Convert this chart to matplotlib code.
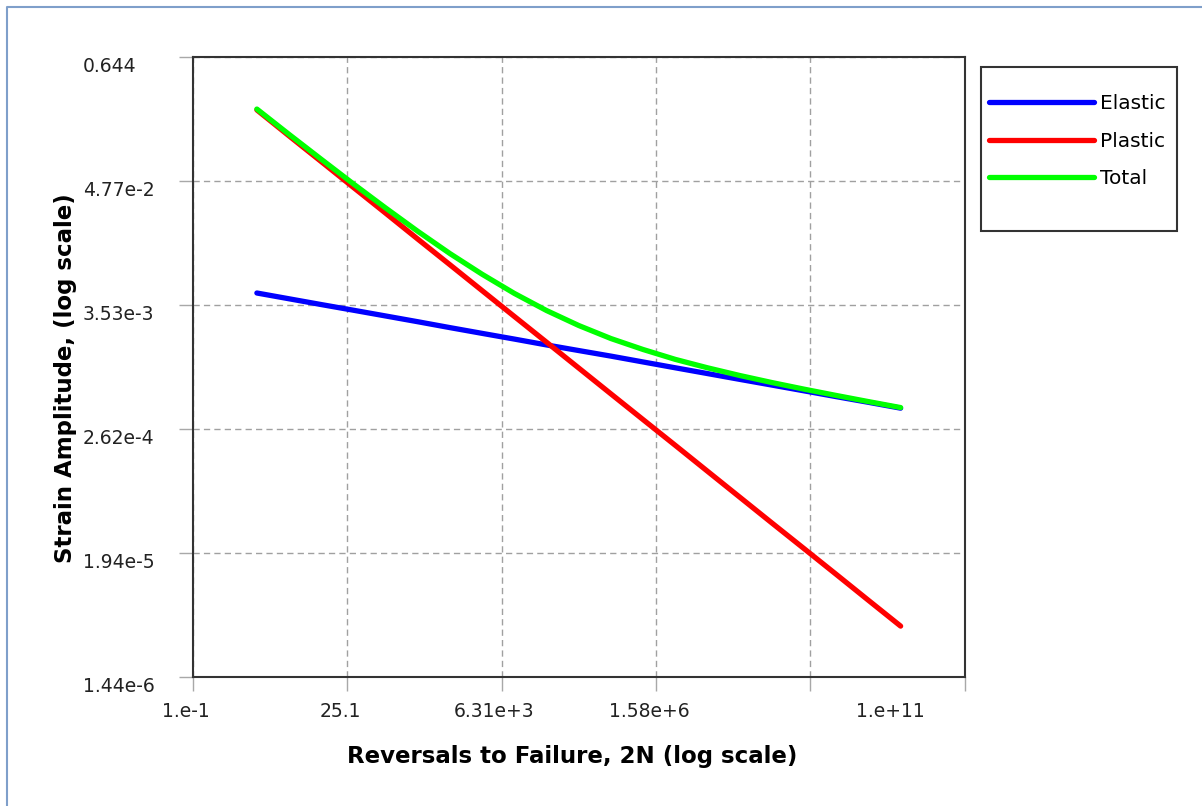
import matplotlib
matplotlib.use('Agg')
import matplotlib.pyplot as plt
import matplotlib.transforms as mtransforms
from matplotlib.lines import Line2D
from matplotlib.patches import Rectangle

# reversals to failure 2N, half-decade steps
reversals = [1, 3.16, 10, 31.6, 100, 316, 1e3, 3.16e3, 1e4, 3.16e4, 1e5,
             3.16e5, 1e6, 3.16e6, 1e7, 3.16e7, 1e8, 3.16e8, 1e9, 3.16e9, 1e10]

elastic = [4.55e-3, 4.03e-3, 3.57e-3, 3.17e-3, 2.81e-3, 2.49e-3, 2.20e-3,
           1.95e-3, 1.73e-3, 1.53e-3, 1.36e-3, 1.21e-3, 1.07e-3, 9.47e-4,
           8.39e-4, 7.43e-4, 6.59e-4, 5.84e-4, 5.17e-4, 4.59e-4, 4.06e-4]
plastic = [0.212, 0.123, 7.17e-2, 4.17e-2, 2.43e-2, 1.41e-2, 8.22e-3,
           4.78e-3, 2.78e-3, 1.62e-3, 9.42e-4, 5.48e-4, 3.19e-4, 1.86e-4,
           1.08e-4, 6.28e-5, 3.65e-5, 2.13e-5, 1.24e-5, 7.20e-6, 4.19e-6]
total = [0.216, 0.127, 7.53e-2, 4.49e-2, 2.71e-2, 1.66e-2, 1.04e-2,
         6.74e-3, 4.51e-3, 3.15e-3, 2.30e-3, 1.75e-3, 1.39e-3, 1.13e-3,
         9.47e-4, 8.06e-4, 6.95e-4, 6.05e-4, 5.30e-4, 4.66e-4, 4.11e-4]

x_ticks = [1e-1, 25.1, 6.31e3, 1.58e6, 3.98e8, 1e11]
x_tick_labels = ['1.e-1', '25.1', '6.31e+3', '1.58e+6', '', '1.e+11']
y_ticks = [1.44e-6, 1.94e-5, 2.62e-4, 3.53e-3, 4.77e-2, 0.644]
y_tick_labels = ['1.44e-6', '1.94e-5', '2.62e-4', '3.53e-3', '4.77e-2', '0.644']

W, H = 1202, 806
fig = plt.figure(figsize=(W / 100, H / 100), dpi=100)
ax = fig.add_axes([192.5 / W, 1 - 677 / H, 772.5 / W, 620 / H])

lw = 3.8
ax.plot(reversals, elastic, color='#0000ff', lw=lw, label='Elastic', solid_capstyle='round')
ax.plot(reversals, plastic, color='#ff0000', lw=lw, label='Plastic', solid_capstyle='round')
ax.plot(reversals, total, color='#00ff00', lw=lw, label='Total', solid_capstyle='round')

ax.set_xscale('log')
ax.set_yscale('log')
ax.set_xlim(x_ticks[0], x_ticks[-1])
ax.set_ylim(y_ticks[0], y_ticks[-1])
ax.minorticks_off()
ax.set_xticks(x_ticks)
ax.set_xticklabels(x_tick_labels)
ax.set_yticks(y_ticks)
ax.set_yticklabels(y_tick_labels)

ax.grid(True, color='#a0a0a0', lw=1.0, linestyle=(0, (4.5, 3)))
ax.set_axisbelow(True)
for s in ax.spines.values():
    s.set_color('#333333')
    s.set_linewidth(1.5)

ax.tick_params(axis='x', direction='out', length=10, width=1, color='#a8a8a8',
               pad=7.9, labelsize=13.5, labelcolor='#222222')
ax.tick_params(axis='y', direction='out', length=10, width=1, color='#a8a8a8',
               pad=68.8, labelsize=13.5, labelcolor='#222222')

for lbl in ax.get_yticklabels():
    lbl.set_ha('left')
    lbl.set_va('top')

xlabels = ax.get_xticklabels()
for i, lbl in enumerate(xlabels):
    shift = -75 if i == len(xlabels) - 1 else -7
    lbl.set_transform(lbl.get_transform() +
                      mtransforms.ScaledTranslation(shift / 100, 0, fig.dpi_scale_trans))

fig.text(572 / W, 1 - 757 / H, 'Reversals to Failure, 2N (log scale)',
         ha='center', va='center', fontsize=16.5, fontweight='bold')
fig.text(66 / W, 1 - 378 / H, 'Strain Amplitude, (log scale)', rotation=90,
         ha='center', va='center', fontsize=16.5, fontweight='bold')

# legend box is larger than its entries
fig.add_artist(Rectangle((981 / W, 1 - 231 / H), 196 / W, 164 / H,
                         transform=fig.transFigure, fill=False,
                         edgecolor='#333333', lw=1.5))
ax.legend(loc='upper left', bbox_to_anchor=(979 / W, 1 - 84 / H),
          bbox_transform=fig.transFigure, frameon=False, borderpad=0,
          fontsize=14.5, handlelength=5.2, handletextpad=0.3, labelspacing=0.92)

# outer window border
fig.add_artist(Line2D([7 / W, 7 / W, 1], [0, 1 - 7 / H, 1 - 7 / H],
                      transform=fig.transFigure, color='#7f9fca', lw=1.5))

fig.savefig('out.png', dpi=100)
